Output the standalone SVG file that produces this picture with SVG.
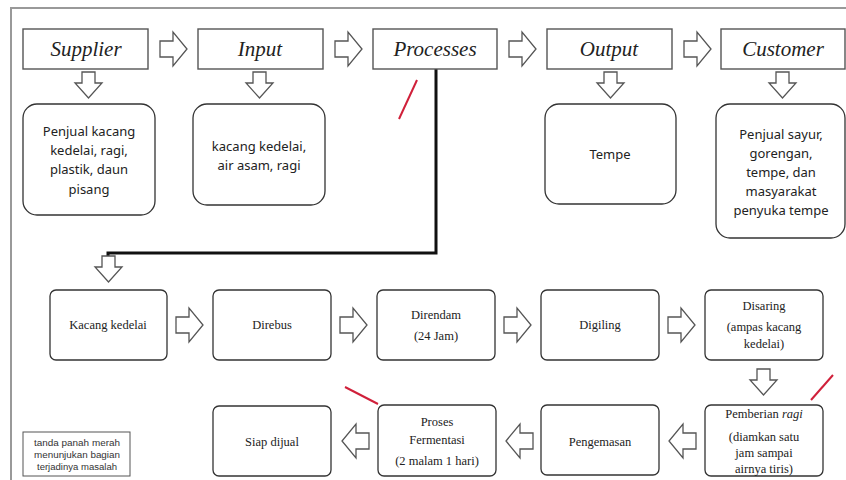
<svg xmlns="http://www.w3.org/2000/svg" width="846" height="480" viewBox="0 0 846 480">
<style>
.hdr{fill:#fff;stroke:#555;stroke-width:1.4}
.rb{fill:#fff;stroke:#333;stroke-width:1.3}
.ht{font-family:"Liberation Serif",serif;font-style:italic;font-size:21px;fill:#222;text-anchor:middle}
.st{font-family:"Noto Sans","Liberation Sans",sans-serif;font-size:13px;fill:#222;text-anchor:middle}
.pt{font-family:"Liberation Serif",serif;font-size:12.5px;fill:#222;text-anchor:middle}
.lg{font-family:"Liberation Sans",sans-serif;font-size:8.5px;fill:#333;text-anchor:middle}
.ar{fill:#fff;stroke:#555;stroke-width:1.3}
.red{stroke:#d0203a;stroke-width:2;fill:none}
</style>
<defs>
<path id="ra" d="M0,9 H13 V0 L27,17 L13,34 V25 H0 Z"/>
<path id="la" d="M27,9 H14 V0 L0,17 L14,34 V25 H27 Z"/>
<path id="da" d="M7,0 H20 V11 H27 L13.5,26 L0,11 H7 Z"/>
</defs>
<rect width="846" height="480" fill="#fff"/>
<path d="M11,480 V8 H846" fill="none" stroke="#999" stroke-width="2"/>

<g id="connectors">
<use href="#ra" class="ar" x="160" y="32"/>
<use href="#ra" class="ar" x="335" y="32"/>
<use href="#ra" class="ar" x="509" y="32"/>
<use href="#ra" class="ar" x="684" y="32"/>
<use href="#da" class="ar" x="75" y="72"/>
<use href="#da" class="ar" x="246" y="72"/>
<use href="#da" class="ar" x="597" y="72"/>
<use href="#da" class="ar" x="769" y="72"/>
<path d="M436,69 V253 H108 V256" fill="none" stroke="#111" stroke-width="3"/>
<use href="#da" class="ar" x="95" y="256"/>
<use href="#ra" class="ar" x="176" y="308"/>
<use href="#ra" class="ar" x="340" y="308"/>
<use href="#ra" class="ar" x="504" y="308"/>
<use href="#ra" class="ar" x="668" y="308"/>
<use href="#da" class="ar" x="750" y="369"/>
<use href="#la" class="ar" x="669" y="424"/>
<use href="#la" class="ar" x="506" y="424"/>
<use href="#la" class="ar" x="342" y="424"/>
<line class="red" x1="399" y1="119" x2="417" y2="80"/>
<line class="red" x1="345" y1="387" x2="378" y2="404"/>
<line class="red" x1="811" y1="400" x2="833" y2="375"/>
</g>

<g id="supplier"><rect class="hdr" x="23" y="29" width="125" height="40"/><text class="ht" x="86" y="56">Supplier</text></g>
<g id="input"><rect class="hdr" x="198" y="29" width="125" height="40"/><text class="ht" x="260" y="56">Input</text></g>
<g id="processes"><rect class="hdr" x="373" y="29" width="124" height="40"/><text class="ht" x="435" y="56">Processes</text></g>
<g id="output"><rect class="hdr" x="547" y="29" width="125" height="40"/><text class="ht" x="609" y="56">Output</text></g>
<g id="customer"><rect class="hdr" x="721" y="29" width="124" height="40"/><text class="ht" x="783" y="56">Customer</text></g>

<g id="supplier-detail"><rect class="rb" x="23" y="104" width="132" height="111" rx="14"/>
<text class="st" x="89" y="136">Penjual kacang</text><text class="st" x="89" y="155">kedelai, ragi,</text><text class="st" x="89" y="174">plastik, daun</text><text class="st" x="89" y="194">pisang</text></g>
<g id="input-detail"><rect class="rb" x="193" y="104" width="132" height="101" rx="14"/>
<text class="st" x="259" y="151">kacang kedelai,</text><text class="st" x="259" y="170">air asam, ragi</text></g>
<g id="output-detail"><rect class="rb" x="545" y="104" width="131" height="100" rx="14"/>
<text class="st" x="610" y="159">Tempe</text></g>
<g id="customer-detail"><rect class="rb" x="716" y="104" width="129" height="134" rx="14"/>
<text class="st" x="781" y="139">Penjual sayur,</text><text class="st" x="781" y="158">gorengan,</text><text class="st" x="781" y="177">tempe, dan</text><text class="st" x="781" y="196">masyarakat</text><text class="st" x="781" y="215">penyuka tempe</text></g>

<g id="kacang"><rect class="rb" x="50" y="290" width="117" height="70" rx="6"/><text class="pt" x="108" y="329">Kacang kedelai</text></g>
<g id="direbus"><rect class="rb" x="213" y="290" width="118" height="70" rx="6"/><text class="pt" x="272" y="329">Direbus</text></g>
<g id="direndam"><rect class="rb" x="377" y="290" width="118" height="70" rx="6"/><text class="pt" x="436" y="319">Direndam</text><text class="pt" x="436" y="340">(24 Jam)</text></g>
<g id="digiling"><rect class="rb" x="541" y="290" width="118" height="70" rx="6"/><text class="pt" x="600" y="329">Digiling</text></g>
<g id="disaring"><rect class="rb" x="705" y="290" width="118" height="70" rx="6"/><text class="pt" x="764" y="310">Disaring</text><text class="pt" x="764" y="331">(ampas kacang</text><text class="pt" x="764" y="348">kedelai)</text></g>

<g id="pemberian"><rect class="rb" x="705" y="405" width="118" height="71" rx="6"/><text class="pt" x="764" y="418">Pemberian <tspan font-style="italic">ragi</tspan></text><text class="pt" x="764" y="441">(diamkan satu</text><text class="pt" x="764" y="457">jam sampai</text><text class="pt" x="764" y="473">airnya tiris)</text></g>
<g id="pengemasan"><rect class="rb" x="541" y="405" width="118" height="70" rx="6"/><text class="pt" x="600" y="446">Pengemasan</text></g>
<g id="fermentasi"><rect class="rb" x="378" y="405" width="118" height="71" rx="6"/><text class="pt" x="437" y="426">Proses</text><text class="pt" x="437" y="444">Fermentasi</text><text class="pt" x="437" y="465">(2 malam 1 hari)</text></g>
<g id="siap"><rect class="rb" x="213" y="406" width="118" height="70" rx="6"/><text class="pt" x="272" y="446">Siap dijual</text></g>

<g id="legend"><rect x="23" y="432" width="107" height="44" fill="#fff" stroke="#555" stroke-width="1"/>
<text class="lg" x="77" y="446" textLength="86" lengthAdjust="spacingAndGlyphs">tanda panah merah</text><text class="lg" x="77" y="458" textLength="86" lengthAdjust="spacingAndGlyphs">menunjukan bagian</text><text class="lg" x="77" y="470" textLength="80" lengthAdjust="spacingAndGlyphs">terjadinya masalah</text></g>
</svg>
